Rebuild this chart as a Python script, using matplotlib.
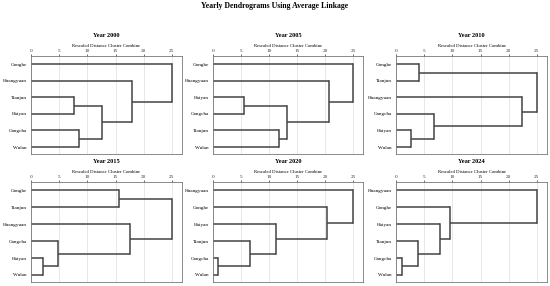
import matplotlib
matplotlib.use("Agg")
import matplotlib.pyplot as plt

plt.rcParams['font.family'] = ['Liberation Serif', 'DejaVu Serif']

years = ["2000", "2005", "2010", "2015", "2020", "2024"]

leaves_2000 = ["Gonghe", "Huangyuan", "Tianjun", "Haiyan", "Gangcha", "Wulan"]
merges_2000 = [(2, 3, 7.7), (4, 5, 8.45), (6, 7, 12.6), (1, 8, 18.0), (0, 9, 25.0)]

leaves_2005 = ["Gonghe", "Huangyuan", "Haiyan", "Gangcha", "Tianjun", "Wulan"]
merges_2005 = [(2, 3, 5.45), (4, 5, 11.85), (6, 7, 13.15), (1, 8, 20.8), (0, 9, 25.0)]

leaves_2010 = ["Gonghe", "Tianjun", "Huangyuan", "Gangcha", "Haiyan", "Wulan"]
merges_2010 = [(4, 5, 2.67), (0, 1, 4.1), (3, 6, 6.8), (2, 8, 22.4), (7, 9, 25.0)]

leaves_2015 = ["Gonghe", "Tianjun", "Huangyuan", "Gangcha", "Haiyan", "Wulan"]
merges_2015 = [(4, 5, 2.13), (3, 6, 4.73), (0, 1, 15.7), (2, 7, 17.5), (8, 9, 25.0)]

leaves_2020 = ["Huangyuan", "Gonghe", "Haiyan", "Tianjun", "Gangcha", "Wulan"]
merges_2020 = [(4, 5, 0.83), (3, 6, 6.6), (2, 7, 11.2), (1, 8, 20.45), (0, 9, 25.0)]

leaves_2024 = ["Huangyuan", "Gonghe", "Haiyan", "Tianjun", "Gangcha", "Wulan"]
merges_2024 = [(4, 5, 1.0), (3, 6, 3.97), (2, 7, 7.8), (1, 8, 9.5), (0, 9, 25.0)]

all_leaves = [leaves_2000, leaves_2005, leaves_2010, leaves_2015, leaves_2020, leaves_2024]
all_merges = [merges_2000, merges_2005, merges_2010, merges_2015, merges_2020, merges_2024]

ticks = [0, 5, 10, 15, 20, 25]

W, H = 550, 286
fig = plt.figure(figsize=(W / 100, H / 100), dpi=100)

col_x = [(31, 182), (213, 363), (396, 547)]
row_y = [(56, 154), (182, 282)]

line_color = "#444444"

def draw(ax, leaves, merges, year):
    n = len(leaves)
    pos = {i: (0.0, float(i)) for i in range(n)}  # (height, y)
    for k, (a, b, d) in enumerate(merges):
        ha, ya = pos[a]
        hb, yb = pos[b]
        ax.plot([ha, d], [ya, ya], color=line_color, lw=1.1, solid_capstyle='butt')
        ax.plot([hb, d], [yb, yb], color=line_color, lw=1.1, solid_capstyle='butt')
        ax.plot([d, d], [ya, yb], color=line_color, lw=1.1, solid_capstyle='projecting')
        pos[n + k] = (d, (ya + yb) / 2.0)
    ax.set_xlim(0, 26.8)
    ax.set_ylim(n - 1 + 0.42, -0.5)
    ax.set_yticks(range(n))
    ax.set_yticklabels(leaves, fontsize=3.7)
    ax.tick_params(axis='y', length=0, pad=3)
    ax.xaxis.tick_top()
    ax.xaxis.set_label_position('top')
    ax.set_xticks(ticks)
    ax.set_xticklabels([str(t) for t in ticks], fontsize=3.8)
    ax.tick_params(axis='x', length=1.5, width=0.5, pad=0.5, colors='#333333')
    ax.set_xlabel("Rescaled Distance Cluster Combine", fontsize=3.4, labelpad=1.5)
    ax.grid(axis='x', color='#dddddd', lw=0.5)
    ax.set_axisbelow(True)
    for s in ax.spines.values():
        s.set_color('#777777')
        s.set_linewidth(0.6)
    ax.set_title(f"Year {year}", fontsize=4.6, fontweight='bold', pad=14)

for idx, year in enumerate(years):
    r, c = divmod(idx, 3)
    x0, x1 = col_x[c]
    yt, yb = row_y[r]
    ax = fig.add_axes([x0 / W, 1 - yb / H, (x1 - x0) / W, (yb - yt) / H])
    draw(ax, all_leaves[idx], all_merges[idx], year)

fig.text(0.5, 1 - 6.5 / H, "Yearly Dendrograms Using Average Linkage",
         ha='center', va='center', fontsize=5.6, fontweight='bold')

fig.savefig("out.png", dpi=100, facecolor='white')
